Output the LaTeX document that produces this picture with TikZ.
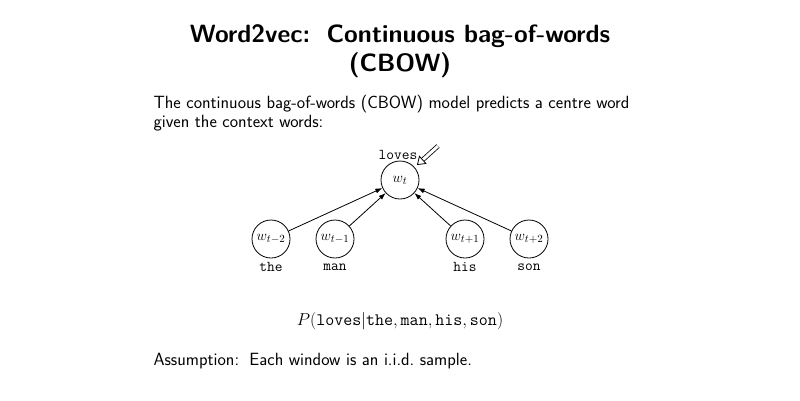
\documentclass[tikz,border=0pt]{standalone}
\usetikzlibrary{arrows.meta}
\begin{document}
\begin{tikzpicture}[x=1pt,y=-1pt,
  wnode/.style={circle,draw,thick,minimum size=38pt,inner sep=0pt,font=\fontsize{15}{18}\selectfont},
  lbl/.style={font=\ttfamily\fontsize{15}{18}\selectfont},
  body/.style={font=\sffamily\fontsize{17.7}{19}\selectfont,anchor=west,align=left},
  edge/.style={-{Latex[length=7pt,width=5pt]},thick}]
\useasboundingbox (0,0) rectangle (800,400);
\node[font=\sffamily\bfseries\fontsize{25}{29}\selectfont,align=center] (title) at (400,51) {Word2vec: \,Continuous bag-of-words\\(CBOW)};
\node[body] (intro) at (150,113) {The continuous bag-of-words (CBOW) model predicts a centre word\\given the context words:};
\node[wnode] (wt) at (400,180) {$w_t$};
\node[wnode] (a) at (271,239) {$w_{t-2}$};
\node[wnode] (b) at (335,239) {$w_{t-1}$};
\node[wnode] (c) at (465,239) {$w_{t+1}$};
\node[wnode] (d) at (529,239) {$w_{t+2}$};
\node[lbl] (l0) at (398,155) {loves};
\node[lbl] (la) at (271,267) {the};
\node[lbl] (lb) at (335,267) {man};
\node[lbl] (lc) at (465,267) {his};
\node[lbl] (ld) at (529,267) {son};
\foreach \n in {a,b,c,d} \draw[edge] (\n) -- (wt);
\coordinate (p) at (438,146);
\coordinate (q) at (417,165);
\draw[double,double distance=3pt,thick,-{Triangle[open,length=8pt,width=11pt]}] (p) -- (q);
\node[font=\fontsize{17.5}{20}\selectfont] (f) at (400,321) {$P(\texttt{loves}|\texttt{the},\texttt{man},\texttt{his},\texttt{son})$};
\node[body] (ass) at (150,361) {Assumption: \,Each window is an i.i.d.\ sample.};
\end{tikzpicture}
\end{document}
